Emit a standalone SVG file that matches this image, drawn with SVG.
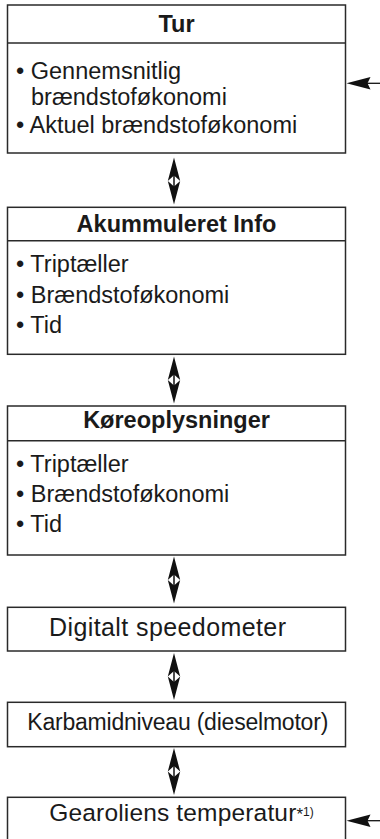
<svg xmlns="http://www.w3.org/2000/svg" xmlns:xlink="http://www.w3.org/1999/xlink" width="380" height="839" viewBox="0 0 380 839">
<style>
.box{fill:#fff;stroke:#2a2a2a;stroke-width:1.5}
.div{stroke:#2a2a2a;stroke-width:1.5}
.t{font-family:"Liberation Sans",Arial,Helvetica,sans-serif;font-size:23.5px;fill:#1a1a1a}
.b{font-weight:bold;text-anchor:middle}
.head{fill:#111}
.shaft{stroke:#111;stroke-width:1.5}
</style>
<defs>
<g id="dbl">
<polygon class="head" points="0,-23.5 6.2,0 0,-5.5 -6.2,0"/>
<polygon class="head" points="0,23.5 6.2,0 0,5.5 -6.2,0"/>
<line class="shaft" x1="0" y1="-6" x2="0" y2="6"/>
</g>
<g id="side">
<polygon class="head" points="0,0 24,-6.2 21,0 24,6.2"/>
<line class="shaft" x1="20" y1="0" x2="34" y2="0" style="stroke-width:1.3"/>
</g>
</defs>
<g id="connectors">
<use xlink:href="#dbl" x="174" y="181"/>
<use xlink:href="#dbl" x="174" y="380"/>
<use xlink:href="#dbl" x="174" y="580"/>
<use xlink:href="#dbl" x="174" y="676.5"/>
<use xlink:href="#dbl" x="174" y="771.5"/>
<use xlink:href="#side" x="346.5" y="83.3"/>
<use xlink:href="#side" x="346.5" y="820.7"/>
</g>
<g id="tur">
<rect class="box" x="7.5" y="5" width="338" height="148"/>
<line class="div" x1="7.5" y1="43" x2="345.5" y2="43"/>
<text class="t b" x="176.5" y="31.5">Tur</text>
<text class="t" x="16" y="79">• Gennemsnitlig</text>
<text class="t" x="31" y="105">brændstoføkonomi</text>
<text class="t" x="16" y="133">• Aktuel brændstoføkonomi</text>
</g>
<g id="akkumuleret">
<rect class="box" x="7.5" y="207.3" width="338" height="147"/>
<line class="div" x1="7.5" y1="240.7" x2="345.5" y2="240.7"/>
<text class="t b" x="176.5" y="231.5">Akummuleret Info</text>
<text class="t" x="16" y="271.5">• Triptæller</text>
<text class="t" x="16" y="302.5">• Brændstoføkonomi</text>
<text class="t" x="16" y="332.5">• Tid</text>
</g>
<g id="koreoplysninger">
<rect class="box" x="7.5" y="406" width="338" height="149"/>
<line class="div" x1="7.5" y1="440.7" x2="345.5" y2="440.7"/>
<text class="t b" x="176.5" y="428.3">Køreoplysninger</text>
<text class="t" x="16" y="471.7">• Triptæller</text>
<text class="t" x="16" y="502.3">• Brændstoføkonomi</text>
<text class="t" x="16" y="531.7">• Tid</text>
</g>
<g id="digitalt">
<rect class="box" x="7.5" y="607.3" width="338" height="43.7"/>
<text class="t" x="49" y="635.5" style="font-size:25px" textLength="237">Digitalt speedometer</text>
</g>
<g id="karbamid">
<rect class="box" x="7.5" y="702.3" width="338" height="44.4"/>
<text class="t" x="27.3" y="730" style="font-size:23px" textLength="301">Karbamidniveau (dieselmotor)</text>
</g>
<g id="gearolie">
<rect class="box" x="7.5" y="797.3" width="338" height="45"/>
<text class="t" x="49.3" y="820.5" style="font-size:24.5px"><tspan textLength="247">Gearoliens temperatur</tspan><tspan style="font-size:17px" dy="-1">*</tspan><tspan style="font-size:12px" dy="-4">1)</tspan></text>
</g>
</svg>
